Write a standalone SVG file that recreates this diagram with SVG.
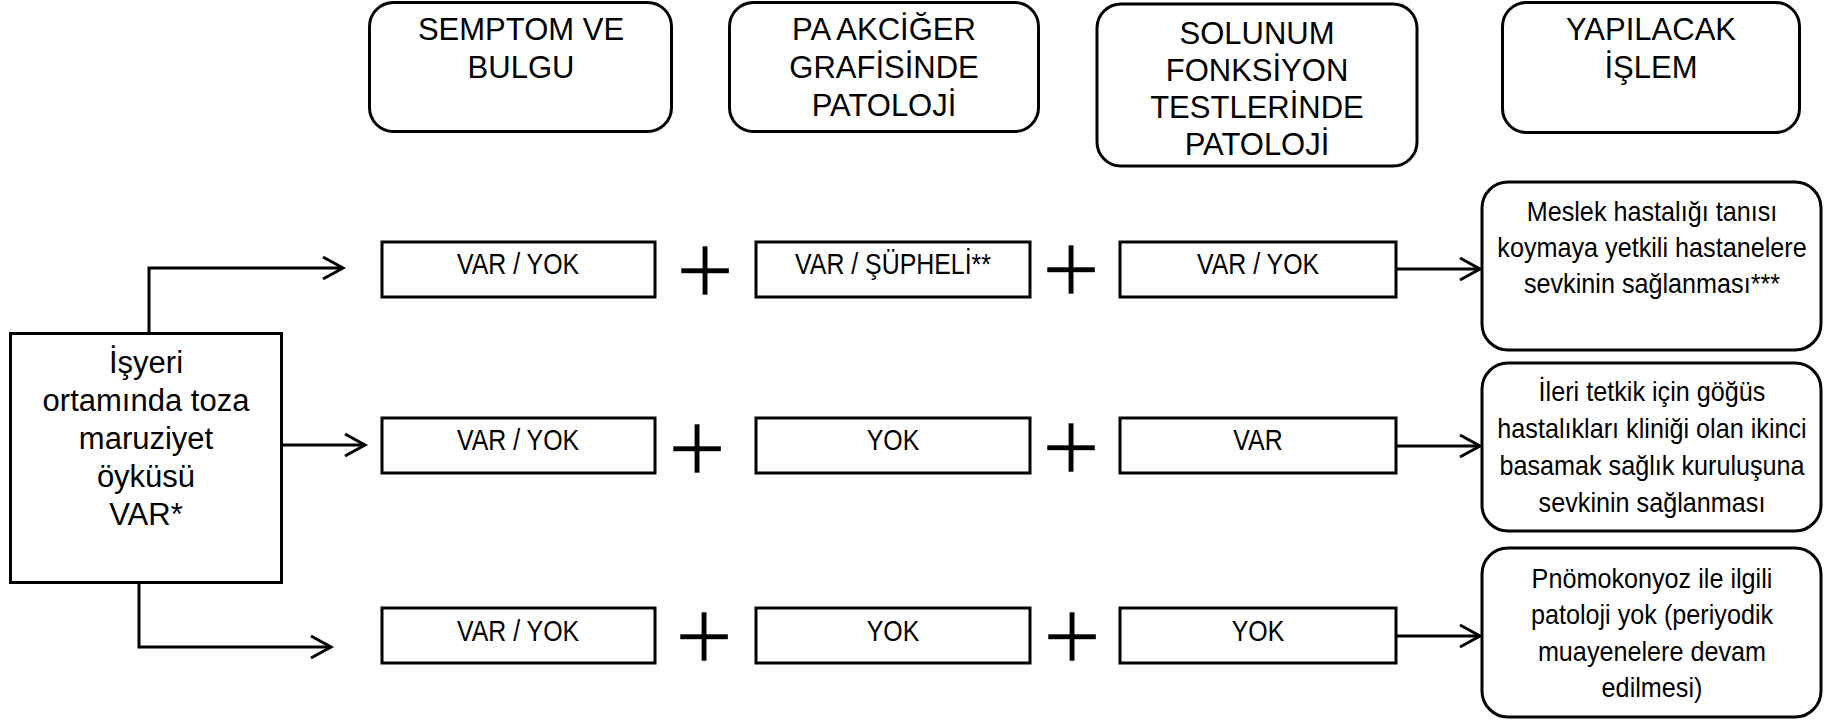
<svg xmlns="http://www.w3.org/2000/svg" width="1825" height="720" viewBox="0 0 1825 720">
<defs>
<marker id="chev" markerUnits="userSpaceOnUse" markerWidth="26" markerHeight="26" refX="21" refY="12" orient="auto" overflow="visible">
<path d="M1,1 L21,12 L1,23" fill="none" stroke="#000" stroke-width="3" stroke-linejoin="miter"/>
</marker>
</defs>
<style>
text{font-family:"Liberation Sans",Arial,sans-serif;fill:#000;text-anchor:middle}
.hdr{fill:#fff;stroke:#000;stroke-width:3}
.box{fill:#fff;stroke:#000;stroke-width:3}
.h{font-size:31px}
.l{font-size:31px}
.r{font-size:30px}
.res{font-size:28px}
.plus{font-size:103px;stroke:#fff;stroke-width:2.4}
.con{fill:none;stroke:#000;stroke-width:3;marker-end:url(#chev)}
</style>
<rect width="1825" height="720" fill="#fff"/>

<g id="hdr-semptom">
<rect class="hdr" x="369.5" y="2.5" width="302" height="129" rx="24"/>
<text class="h" x="521" y="40">SEMPTOM VE</text>
<text class="h" x="521" y="78">BULGU</text>
</g>
<g id="hdr-pa">
<rect class="hdr" x="729.5" y="2.5" width="309" height="129" rx="24"/>
<text class="h" x="884" y="40">PA AKCİĞER</text>
<text class="h" x="884" y="78">GRAFİSİNDE</text>
<text class="h" x="884" y="116">PATOLOJİ</text>
</g>
<g id="hdr-sft">
<rect class="hdr" x="1097" y="4" width="320" height="162" rx="24"/>
<text class="h" x="1257" y="44">SOLUNUM</text>
<text class="h" x="1257" y="81">FONKSİYON</text>
<text class="h" x="1257" y="118">TESTLERİNDE</text>
<text class="h" x="1257" y="155">PATOLOJİ</text>
</g>
<g id="hdr-islem">
<rect class="hdr" x="1502.5" y="2.5" width="297" height="130" rx="24"/>
<text class="h" x="1651" y="40">YAPILACAK</text>
<text class="h" x="1651" y="78">İŞLEM</text>
</g>

<g id="start">
<rect class="box" x="10.5" y="333.5" width="271" height="249"/>
<text class="l" x="146" y="373">İşyeri</text>
<text class="l" x="146" y="411">ortamında toza</text>
<text class="l" x="146" y="449">maruziyet</text>
<text class="l" x="146" y="487">öyküsü</text>
<text class="l" x="146" y="525">VAR*</text>
</g>

<g id="r1c1"><rect class="box" x="382" y="242" width="273" height="55"/><text class="r" transform="translate(518 274) scale(0.83 1)">VAR / YOK</text></g>
<g id="r1c2"><rect class="box" x="756" y="242" width="274" height="55"/><text class="r" transform="translate(893 274) scale(0.83 1)">VAR / ŞÜPHELİ**</text></g>
<g id="r1c3"><rect class="box" x="1120" y="242" width="276" height="55"/><text class="r" transform="translate(1258 274) scale(0.83 1)">VAR / YOK</text></g>

<g id="r2c1"><rect class="box" x="382" y="418" width="273" height="55"/><text class="r" transform="translate(518 450) scale(0.83 1)">VAR / YOK</text></g>
<g id="r2c2"><rect class="box" x="756" y="418" width="274" height="55"/><text class="r" transform="translate(893 450) scale(0.83 1)">YOK</text></g>
<g id="r2c3"><rect class="box" x="1120" y="418" width="276" height="55"/><text class="r" transform="translate(1258 450) scale(0.83 1)">VAR</text></g>

<g id="r3c1"><rect class="box" x="382" y="608" width="273" height="55"/><text class="r" transform="translate(518 641) scale(0.83 1)">VAR / YOK</text></g>
<g id="r3c2"><rect class="box" x="756" y="608" width="274" height="55"/><text class="r" transform="translate(893 641) scale(0.83 1)">YOK</text></g>
<g id="r3c3"><rect class="box" x="1120" y="608" width="276" height="55"/><text class="r" transform="translate(1258 641) scale(0.83 1)">YOK</text></g>

<g id="plus-signs">
<text class="plus" x="705" y="305">+</text>
<text class="plus" x="1071" y="304">+</text>
<text class="plus" x="697" y="483">+</text>
<text class="plus" x="1071" y="482">+</text>
<text class="plus" x="704" y="671">+</text>
<text class="plus" x="1072" y="671">+</text>
</g>

<g id="res1">
<rect class="box" x="1482" y="182" width="339" height="168" rx="26"/>
<g transform="translate(1652 0) scale(0.9 1)">
<text class="res" x="0" y="221">Meslek hastalığı tanısı</text>
<text class="res" x="0" y="257">koymaya yetkili hastanelere</text>
<text class="res" x="0" y="293">sevkinin sağlanması***</text>
</g>
</g>
<g id="res2">
<rect class="box" x="1482" y="363" width="339" height="168" rx="26"/>
<g transform="translate(1652 0) scale(0.9 1)">
<text class="res" x="0" y="401">İleri tetkik için göğüs</text>
<text class="res" x="0" y="438">hastalıkları kliniği olan ikinci</text>
<text class="res" x="0" y="475">basamak sağlık kuruluşuna</text>
<text class="res" x="0" y="512">sevkinin sağlanması</text>
</g>
</g>
<g id="res3">
<rect class="box" x="1482" y="548" width="339" height="169" rx="26"/>
<g transform="translate(1652 0) scale(0.9 1)">
<text class="res" x="0" y="588">Pnömokonyoz ile ilgili</text>
<text class="res" x="0" y="624">patoloji yok (periyodik</text>
<text class="res" x="0" y="661">muayenelere devam</text>
<text class="res" x="0" y="697">edilmesi)</text>
</g>
</g>

<g id="connectors">
<polyline class="con" points="149,333 149,268 343,268"/>
<polyline class="con" points="282,445 365,445"/>
<polyline class="con" points="139,583 139,647 331,647"/>
<polyline class="con" points="1396,269 1480,269"/>
<polyline class="con" points="1396,446 1480,446"/>
<polyline class="con" points="1396,636 1480,636"/>
</g>
</svg>
